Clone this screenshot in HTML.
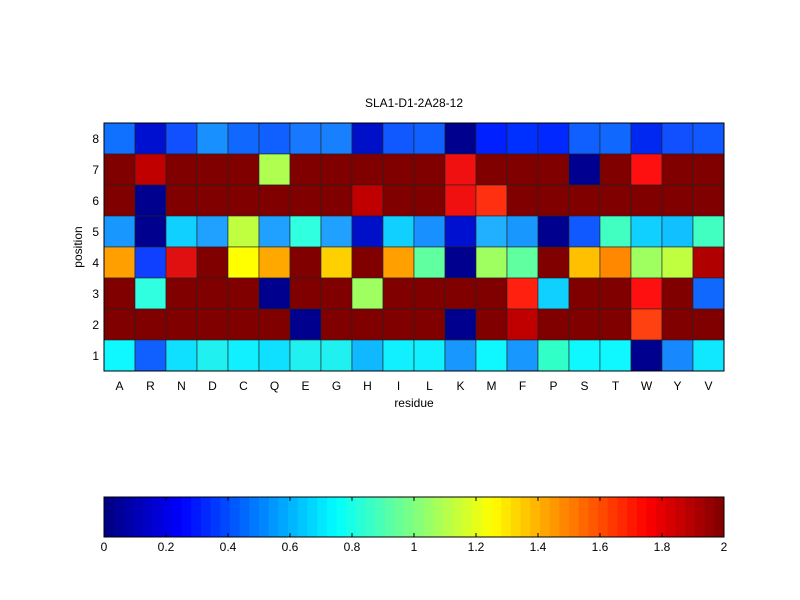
<!DOCTYPE html>
<html><head><meta charset="utf-8"><style>
body{margin:0;background:#fff;}
svg{display:block;font-family:"Liberation Sans",sans-serif;}
</style></head><body>
<svg id="s" width="800" height="600" viewBox="0 0 800 600" xmlns="http://www.w3.org/2000/svg">
<rect width="800" height="600" fill="#fff"/>
<g id="cells"></g>
<rect x="104" y="123" width="620" height="248" fill="none" stroke="#000" stroke-width="1"/>
<text x="414" y="107" font-size="12" text-anchor="middle">SLA1-D1-2A28-12</text>
<g font-size="12" text-anchor="end">
<text x="99" y="143">8</text><text x="99" y="174">7</text><text x="99" y="205">6</text><text x="99" y="236">5</text>
<text x="99" y="267">4</text><text x="99" y="298">3</text><text x="99" y="329">2</text><text x="99" y="360">1</text>
</g>
<g id="xl" font-size="12" text-anchor="middle">
<text x="119.5" y="390">A</text><text x="150.5" y="390">R</text><text x="181.5" y="390">N</text><text x="212.5" y="390">D</text>
<text x="243.5" y="390">C</text><text x="274.5" y="390">Q</text><text x="305.5" y="390">E</text><text x="336.5" y="390">G</text>
<text x="367.5" y="390">H</text><text x="398.5" y="390">I</text><text x="429.5" y="390">L</text><text x="460.5" y="390">K</text>
<text x="491.5" y="390">M</text><text x="522.5" y="390">F</text><text x="553.5" y="390">P</text><text x="584.5" y="390">S</text>
<text x="615.5" y="390">T</text><text x="646.5" y="390">W</text><text x="677.5" y="390">Y</text><text x="708.5" y="390">V</text>
</g>
<text x="414" y="407" font-size="12" text-anchor="middle">residue</text>
<text x="0" y="0" font-size="12" text-anchor="middle" transform="translate(82,247) rotate(-90)">position</text>
<g id="cb"></g>
<rect x="104" y="497" width="620" height="40" fill="none" stroke="#000" stroke-width="1"/>
<g font-size="12" text-anchor="middle">
<text x="104" y="551">0</text><text x="166" y="551">0.2</text><text x="228" y="551">0.4</text><text x="290" y="551">0.6</text>
<text x="352" y="551">0.8</text><text x="414" y="551">1</text><text x="476" y="551">1.2</text><text x="538" y="551">1.4</text>
<text x="600" y="551">1.6</text><text x="662" y="551">1.8</text><text x="724" y="551">2</text>
</g>
</svg>
<script>
var D="#800000";
var rows=[
["#1070ff","#0010d0","#1050ff","#1890ff","#1068ff","#1060ff","#1878ff","#1880ff","#0010c8","#1058ff","#1060ff","#00008f","#0020ff","#0030ff","#0028ff","#1060ff","#1068ff","#0028f0","#1050ff","#1058ff"],
[D,"#c00000",D,D,D,"#b0ff50",D,D,D,D,D,"#f01010",D,D,D,"#000090",D,"#ff1010",D,D],
[D,"#00008f",D,D,D,D,D,D,"#c00000",D,D,"#f01010","#ff3010",D,D,D,D,D,D,D],
["#1898ff","#00008f","#10d0ff","#20a0ff","#c0ff40","#20a0ff","#30ffe0","#20a0ff","#0010c8","#10d0ff","#1890ff","#0010d0","#20b0ff","#1898ff","#00008f","#1058ff","#40ffc0","#10d0ff","#10c0ff","#40ffc0"],
["#ffa000","#1040ff","#e01010",D,"#ffff00","#ffa800",D,"#ffd000",D,"#ffa000","#60ffa0","#00008f","#a0ff60","#60ffa0",D,"#ffc000","#ff8800","#a0ff60","#c0ff40","#b00000"],
[D,"#30ffe0",D,D,D,"#00008f",D,D,"#a0ff60",D,D,D,D,"#ff2010","#10d0ff",D,D,"#ff1010",D,"#1068ff"],
[D,D,D,D,D,D,"#00008f",D,D,D,D,"#00008f",D,"#c00000",D,D,D,"#ff4010",D,D],
["#10f8ff","#1060ff","#10e0ff","#20f0f0","#10f0ff","#10e0ff","#20f0f0","#20f0f0","#10b8ff","#10f0ff","#10f0ff","#1898ff","#10f8ff","#1898ff","#30ffc8","#10f8ff","#10f8ff","#00008f","#1888ff","#10e8ff"]];
var NS="http://www.w3.org/2000/svg",g=document.getElementById("cells");
rows.forEach(function(r,i){r.forEach(function(c,j){var e=document.createElementNS(NS,"rect");
e.setAttribute("x",104+31*j);e.setAttribute("y",123+31*i);e.setAttribute("width",31);e.setAttribute("height",31);
e.setAttribute("fill",c);e.setAttribute("stroke","#222");e.setAttribute("stroke-width","0.6");g.appendChild(e);});});
function jet(t){function f(x){return Math.max(0,Math.min(1,x));}
var r=f(1.5-Math.abs(4*t-3)),gg=f(1.5-Math.abs(4*t-2)),b=f(1.5-Math.abs(4*t-1));
return "rgb("+Math.round(r*255)+","+Math.round(gg*255)+","+Math.round(b*255)+")";}
var cb=document.getElementById("cb");
for(var k=0;k<64;k++){var e=document.createElementNS(NS,"rect");var x0=104+620*k/64;
e.setAttribute("x",x0);e.setAttribute("y",497);e.setAttribute("width",620/64+0.5);e.setAttribute("height",40);
e.setAttribute("fill",jet((k+0.5)/64));cb.appendChild(e);}
for(var k=1;k<10;k++){var x=104+62*k;["497","533"].forEach(function(y){var l=document.createElementNS(NS,"line");
l.setAttribute("x1",x);l.setAttribute("x2",x);l.setAttribute("y1",y);l.setAttribute("y2",+y+4);l.setAttribute("stroke","#000");cb.appendChild(l);});}
</script>
</body></html>
